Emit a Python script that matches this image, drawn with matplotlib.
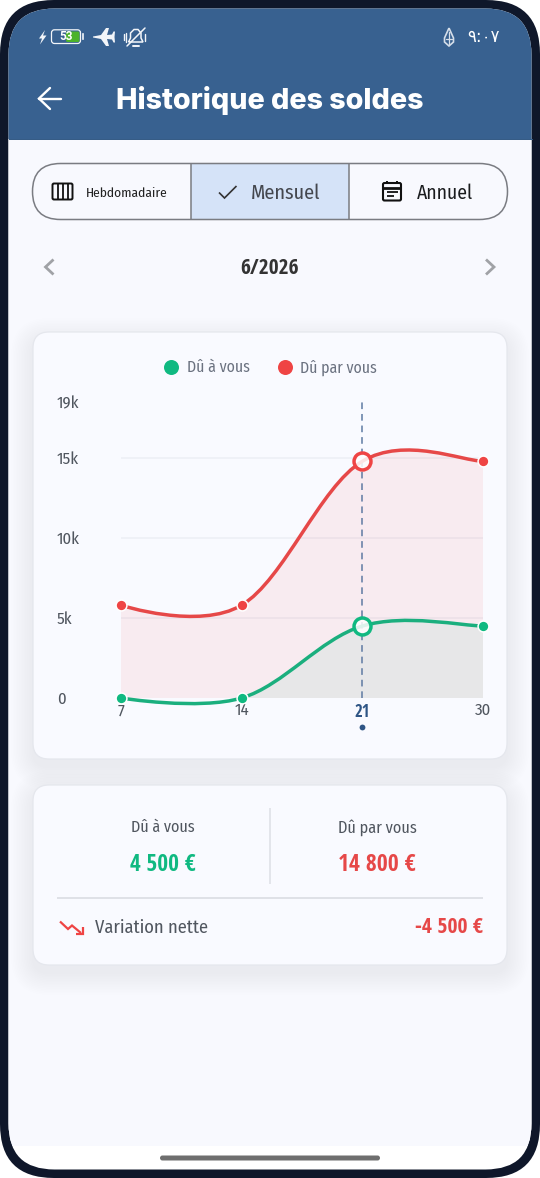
import matplotlib
matplotlib.use("Agg")
import matplotlib.pyplot as plt
from matplotlib import font_manager as fm
from matplotlib.patches import FancyBboxPatch, Rectangle, PathPatch, Polygon
from matplotlib.path import Path
from matplotlib.lines import Line2D
from matplotlib.textpath import TextPath
from matplotlib.transforms import ScaledTranslation

# ---- data ----
day_labels = ["7", "14", "21", "30"]
du_a_vous = [0, 0, 4500, 4500]
du_par_vous = [5800, 5800, 14800, 14800]
y_ticks = [0, 5000, 10000, 15000, 18500]
y_tick_labels = ["0", "5k", "10k", "15k", "19k"]
grid_values = [5000, 10000, 15000]
selected_index = 2
legend_labels = ["Dû à vous", "Dû par vous"]

BG = "#F8F9FE"
CARD = "#F9FAFF"
HEADER = "#386190"
DARK = "#0F172A"
GREEN = "#10B981"
RED = "#EF4444"
PRIMARY = "#2F5585"
W, H = 540, 1178


def face(weight="normal"):
    if weight == "bold":
        return fm.FontProperties(family=["Open Sans Condensed", "Roboto Condensed", "DejaVu Sans"], weight=700)
    return fm.FontProperties(family=["Fira Sans Condensed", "Roboto Condensed", "DejaVu Sans"], weight=400)


def fit(s, width_px, weight="normal", fp=None):
    """Font size (pt) that makes string s span width_px at 100 dpi."""
    p = (fp or face(weight)).copy()
    p.set_size(10)
    w = TextPath((0, 0), s, size=10, prop=p).get_extents().width * 100 / 72
    return 10 * width_px / w


def sized(size, weight="normal"):
    p = face(weight).copy()
    p.set_size(size)
    return p


fig = plt.figure(figsize=(W / 100, H / 100), dpi=100, facecolor="white")
bg = fig.add_axes([0, 0, 1, 1])
bg.set_xlim(0, W)
bg.set_ylim(H, 0)
bg.axis("off")


def rrect(x0, y0, x1, y1, r, fc, ec="none", lw=0, z=1, alpha=None, ax=bg):
    p = FancyBboxPatch((x0, y0), x1 - x0, y1 - y0,
                       boxstyle=f"round,pad=0,rounding_size={r}",
                       fc=fc, ec=ec, lw=lw, zorder=z, alpha=alpha)
    ax.add_patch(p)
    return p


# frame and screen
rrect(0, 0, W, H, 54, DARK, z=0)
screen = rrect(8.5, 8.5, 531.5, 1169.5, 46, "white", z=1)
content = Rectangle((0, 139), W, 1146 - 139, fc=BG, zorder=1.1)
bg.add_patch(content)
content.set_clip_path(screen)
header = Rectangle((0, 0), W, 139, fc=HEADER, zorder=1.2)
bg.add_patch(header)
header.set_clip_path(screen)
bg.plot([8.5, 531.5], [138.5, 138.5], color="#305783", lw=0.7, zorder=1.3)


def T(x, baseline, s, width, color, ha="center", weight="normal", z=6):
    p = sized(fit(s, width, weight), weight)
    return bg.text(x, baseline, s, color=color, ha=ha, va="baseline", fontproperties=p, zorder=z)


def stroke(xs, ys, color, lw, z=6, cap="round", join="round"):
    bg.plot(xs, ys, color=color, lw=lw, zorder=z, solid_capstyle=cap, solid_joinstyle=join)


# status bar
WHT = "#F2F5F9"
bg.add_patch(Polygon([(45, 30), (39, 38.5), (42, 38.5), (40, 44.5), (46.5, 35.5), (43, 35.5)], fc=WHT, ec="none", zorder=6))
rrect(51.5, 29.8, 80.5, 43.5, 3, "none", ec=WHT, lw=0.9, z=6)
rrect(66, 31.5, 79.5, 42, 1.5, "#4CB32A", z=5.5)
bg.plot([83, 83], [34, 39], color=WHT, lw=1.2, zorder=6)
bg.text(66, 37, "53", color="white", ha="center", va="center",
        fontproperties=fm.FontProperties(family="Roboto", size=8.5, weight="bold"), zorder=6)
bg.add_patch(Polygon([(93, 36.5), (101, 35), (106, 28), (109, 28), (107, 35), (112, 34.5), (113.5, 31.5),
                      (115, 31.5), (114.5, 37), (115, 42.5), (113.5, 42.5), (112, 39.5), (107, 39), (109, 46),
                      (106, 46), (101, 39), (93, 37.5)], fc=WHT, ec="none", zorder=6))
bell = Path([(128.5, 42), (130.5, 38), (130.5, 33), (134, 29.5), (138, 29.5), (141, 33), (141, 38), (143, 42), (128.5, 42)])
bg.add_patch(PathPatch(bell, fc="none", ec=WHT, lw=1.1, zorder=6))
stroke([127, 145], [46, 28], WHT, 1.1)
stroke([132.5, 138.5], [45.5, 45.5], WHT, 1.4)
for x_, h_ in [(123.5, 3), (126, 4.5), (145, 3.5)]:
    stroke([x_, x_], [37 - h_, 37 + h_], WHT, 1)
drop = Path([(449, 28), (444.5, 38), (444.5, 42), (449, 46), (453.5, 42), (453.5, 38), (449, 28)])
bg.add_patch(PathPatch(drop, fc="none", ec="#D5DEE9", lw=1.2, zorder=6))
stroke([449, 449], [32, 44], "#D5DEE9", 0.9)
stroke([446, 452], [39, 39], "#D5DEE9", 0.9)
bg.text(483.5, 37.5, "٩:٠٧", color="white", ha="center", va="center", fontsize=12, family="DejaVu Sans", zorder=6)

# top bar
stroke([39, 61], [98.5, 98.5], "white", 1.7)
stroke([50, 39, 50], [88, 98.5, 109], "white", 1.7, join="miter")
title_fp = fm.FontProperties(family="Inter", weight=800)
title_fp.set_size(fit("Historique des soldes", 306, fp=title_fp))
bg.text(270, 109, "Historique des soldes", color="white", ha="center", va="baseline", fontproperties=title_fp, zorder=6)

# segmented control
rrect(32.5, 163.5, 507.5, 219.5, 28, BG, z=2)
bg.add_patch(Rectangle((190.5, 163.5), 158.5, 56, fc="#D5E3F8", zorder=2.1))
rrect(32.5, 163.5, 507.5, 219.5, 28, "none", ec="#7A7C82", lw=1.1, z=3)
stroke([190.5, 190.5], [163.5, 219.5], "#7A7C82", 1.1, z=3, cap="butt")
stroke([349, 349], [163.5, 219.5], "#7A7C82", 1.1, z=3, cap="butt")
rrect(52.5, 183.5, 72.5, 199.5, 1.5, "none", ec="#111111", lw=1.4, z=6)
for x_ in (57.5, 62.5, 67.5):
    stroke([x_, x_], [184, 199], "#111111", 1.3, cap="butt")
T(127, 197.3, "Hebdomadaire", 80, "#222222")
stroke([219, 224.5, 236.5], [192.5, 198, 186], "#333333", 1.2, join="miter", cap="butt")
T(286, 199, "Mensuel", 68, "#44474E")
rrect(383, 183, 401, 200.5, 1.5, "none", ec="#111111", lw=1.5, z=6)
stroke([383, 401], [187.5, 187.5], "#111111", 2, cap="butt")
for x_ in (387, 397):
    stroke([x_, x_], [180.5, 184], "#111111", 1.4, cap="butt")
stroke([386.5, 397.5], [191.5, 191.5], "#111111", 1.3, cap="butt")
stroke([386.5, 393.5], [195.5, 195.5], "#111111", 1.3, cap="butt")
T(444.5, 199, "Annuel", 55.5, "#1A1C1E")

# month navigator
stroke([53.5, 45.5, 53.5], [259.5, 267, 274.5], "#A0A2A6", 2, join="miter", cap="butt")
stroke([486, 494, 486], [259.5, 267, 274.5], "#A0A2A6", 2, join="miter", cap="butt")
T(269.5, 273.5, "6/2026", 57, "#333333", weight="bold")


# cards
def card(x0, y0, x1, y1):
    for i in range(14):
        g = 22 - i * 1.6
        rrect(x0 - g, y0 - g + 8, x1 + g, y1 + g + 8, 16 + g, "#20305A", z=1.5, alpha=0.0036)
    rrect(x0, y0, x1, y1, 16, CARD, ec="#E5E7ED", lw=0.9, z=2)


card(33, 332, 507, 759)
card(33, 785, 507, 965)

# ---- chart axes ----
L, R, TOP, BOT = 120.7, 483.3, 402, 698
ax = fig.add_axes([L / W, 1 - BOT / H, (R - L) / W, (BOT - TOP) / H])
ax.patch.set_alpha(0)
xpos = list(range(len(day_labels)))
ax.set_xlim(xpos[0], xpos[-1])
ax.set_ylim(y_ticks[0], y_ticks[-1])
for s_ in ax.spines.values():
    s_.set_visible(False)


def smooth_path(x, y, s=0.35):
    verts = [(x[0], y[0])]
    codes = [Path.MOVETO]
    tx, ty = 0.0, 0.0
    n = len(x)
    for i in range(1, n):
        j = min(i + 1, n - 1)
        c1 = (x[i - 1] + tx, y[i - 1] + ty)
        tx = (x[j] - x[i - 1]) / 2 * s
        ty = (y[j] - y[i - 1]) / 2 * s
        c2 = (x[i] - tx, y[i] - ty)
        verts += [c1, c2, (x[i], y[i])]
        codes += [Path.CURVE4] * 3
    return verts, codes


clip = Rectangle((xpos[0], 0), xpos[-1], y_ticks[-1], transform=ax.transData)
for vals, col, a_ in [(du_par_vous, RED, 0.08), (du_a_vous, GREEN, 0.07)]:
    v, c = smooth_path(xpos, vals)
    area = Path(v + [(xpos[-1], 0), (xpos[0], 0), v[0]], c + [Path.LINETO, Path.LINETO, Path.CLOSEPOLY])
    pa = PathPatch(area, fc=col, ec="none", alpha=a_, zorder=1)
    ax.add_patch(pa)
    pa.set_clip_path(clip)

ax.hlines(grid_values, xpos[0], xpos[-1], color="#1E2A50", alpha=0.05, lw=1.2, zorder=2)
ax.axvline(xpos[selected_index], color="#5F7BA3", lw=1.3, dashes=(3.7, 2.7), alpha=0.85, zorder=3)

for vals, col in [(du_par_vous, "#E64848"), (du_a_vous, "#1BAF7E")]:
    v, c = smooth_path(xpos, vals)
    ax.add_patch(PathPatch(Path(v, c), fc="none", ec=col, lw=2.5, zorder=4, clip_on=False, capstyle="round"))

for vals, col in [(du_par_vous, RED), (du_a_vous, GREEN)]:
    nx = [p for i, p in enumerate(xpos) if i != selected_index]
    ny = [p for i, p in enumerate(vals) if i != selected_index]
    ax.plot(nx, ny, ls="none", marker="o", ms=7.8, mfc=col, mec="white", mew=1.1, zorder=5, clip_on=False)
    ax.plot([xpos[selected_index]], [vals[selected_index]], ls="none", marker="o", ms=12.2,
            mfc=(1, 1, 1, 0.85), mec=col, mew=2.5, zorder=5, clip_on=False)

tick_size = fit("19k", 22)
ax.set_yticks(y_ticks)
ax.set_yticklabels(y_tick_labels, fontproperties=sized(tick_size), color="#50565F", ha="left")
ax.tick_params(axis="y", length=0, pad=(L - 57) * 0.72)
ax.set_xticks(xpos)
ax.set_xticklabels(day_labels, fontproperties=sized(tick_size), color="#50565F")
ax.tick_params(axis="x", length=0, pad=3.4)
sl = ax.get_xticklabels()[selected_index]
sl.set_fontproperties(sized(tick_size, "bold"))
sl.set_color(PRIMARY)
ax.plot([xpos[selected_index]], [0], ls="none", marker="o", ms=4.2, mfc=PRIMARY, mec="none", clip_on=False,
        transform=ax.get_xaxis_transform() + ScaledTranslation(0, -29 / 100, fig.dpi_scale_trans))

legend_size = fit(legend_labels[1], 75)
handles = [Line2D([], [], ls="none", marker="o", ms=10.8, mfc=GREEN, mec="none"),
           Line2D([], [], ls="none", marker="o", ms=10.8, mfc=RED, mec="none")]
em = legend_size * 100 / 72
ax.legend(handles, legend_labels, ncol=2, frameon=False, loc="center",
          bbox_to_anchor=(270 / W, 1 - 367.5 / H), bbox_transform=fig.transFigure,
          prop=sized(legend_size), labelcolor="#6B7280", handlelength=1.0,
          handletextpad=(8.5 - (em - 14) / 2) / em, columnspacing=(28 - (em - 14) / 2) / em,
          borderpad=0, borderaxespad=0)

# ---- summary card ----
stroke([269.8, 269.8], [808, 884], "#DDDFE5", 1.1, z=3, cap="butt")
stroke([57, 483], [898, 898], "#D8DAE0", 1.1, z=3, cap="butt")
T(162.5, 832.5, legend_labels[0], 62, "#50565F")
T(377, 832.5, legend_labels[1], 77, "#50565F")
T(162.5, 871, "4 500 €", 65, GREEN, weight="bold")
T(377, 871, "14 800 €", 76, "#E64848", weight="bold")
T(94.7, 933, "Variation nette", 112, "#50565F", ha="left")
T(483, 933, "-4 500 €", 67, "#E64848", ha="right", weight="bold")
stroke([60, 68, 72, 81], [921.5, 929, 925.5, 933], RED, 1.6, join="miter", cap="butt")
stroke([75.5, 83, 83], [934, 934, 927], RED, 1.6, join="miter", cap="butt")

# home indicator
rrect(160, 1155.5, 380, 1160.5, 2.5, "#6E6E6E", z=6)

fig.savefig("out.png", dpi=100)
